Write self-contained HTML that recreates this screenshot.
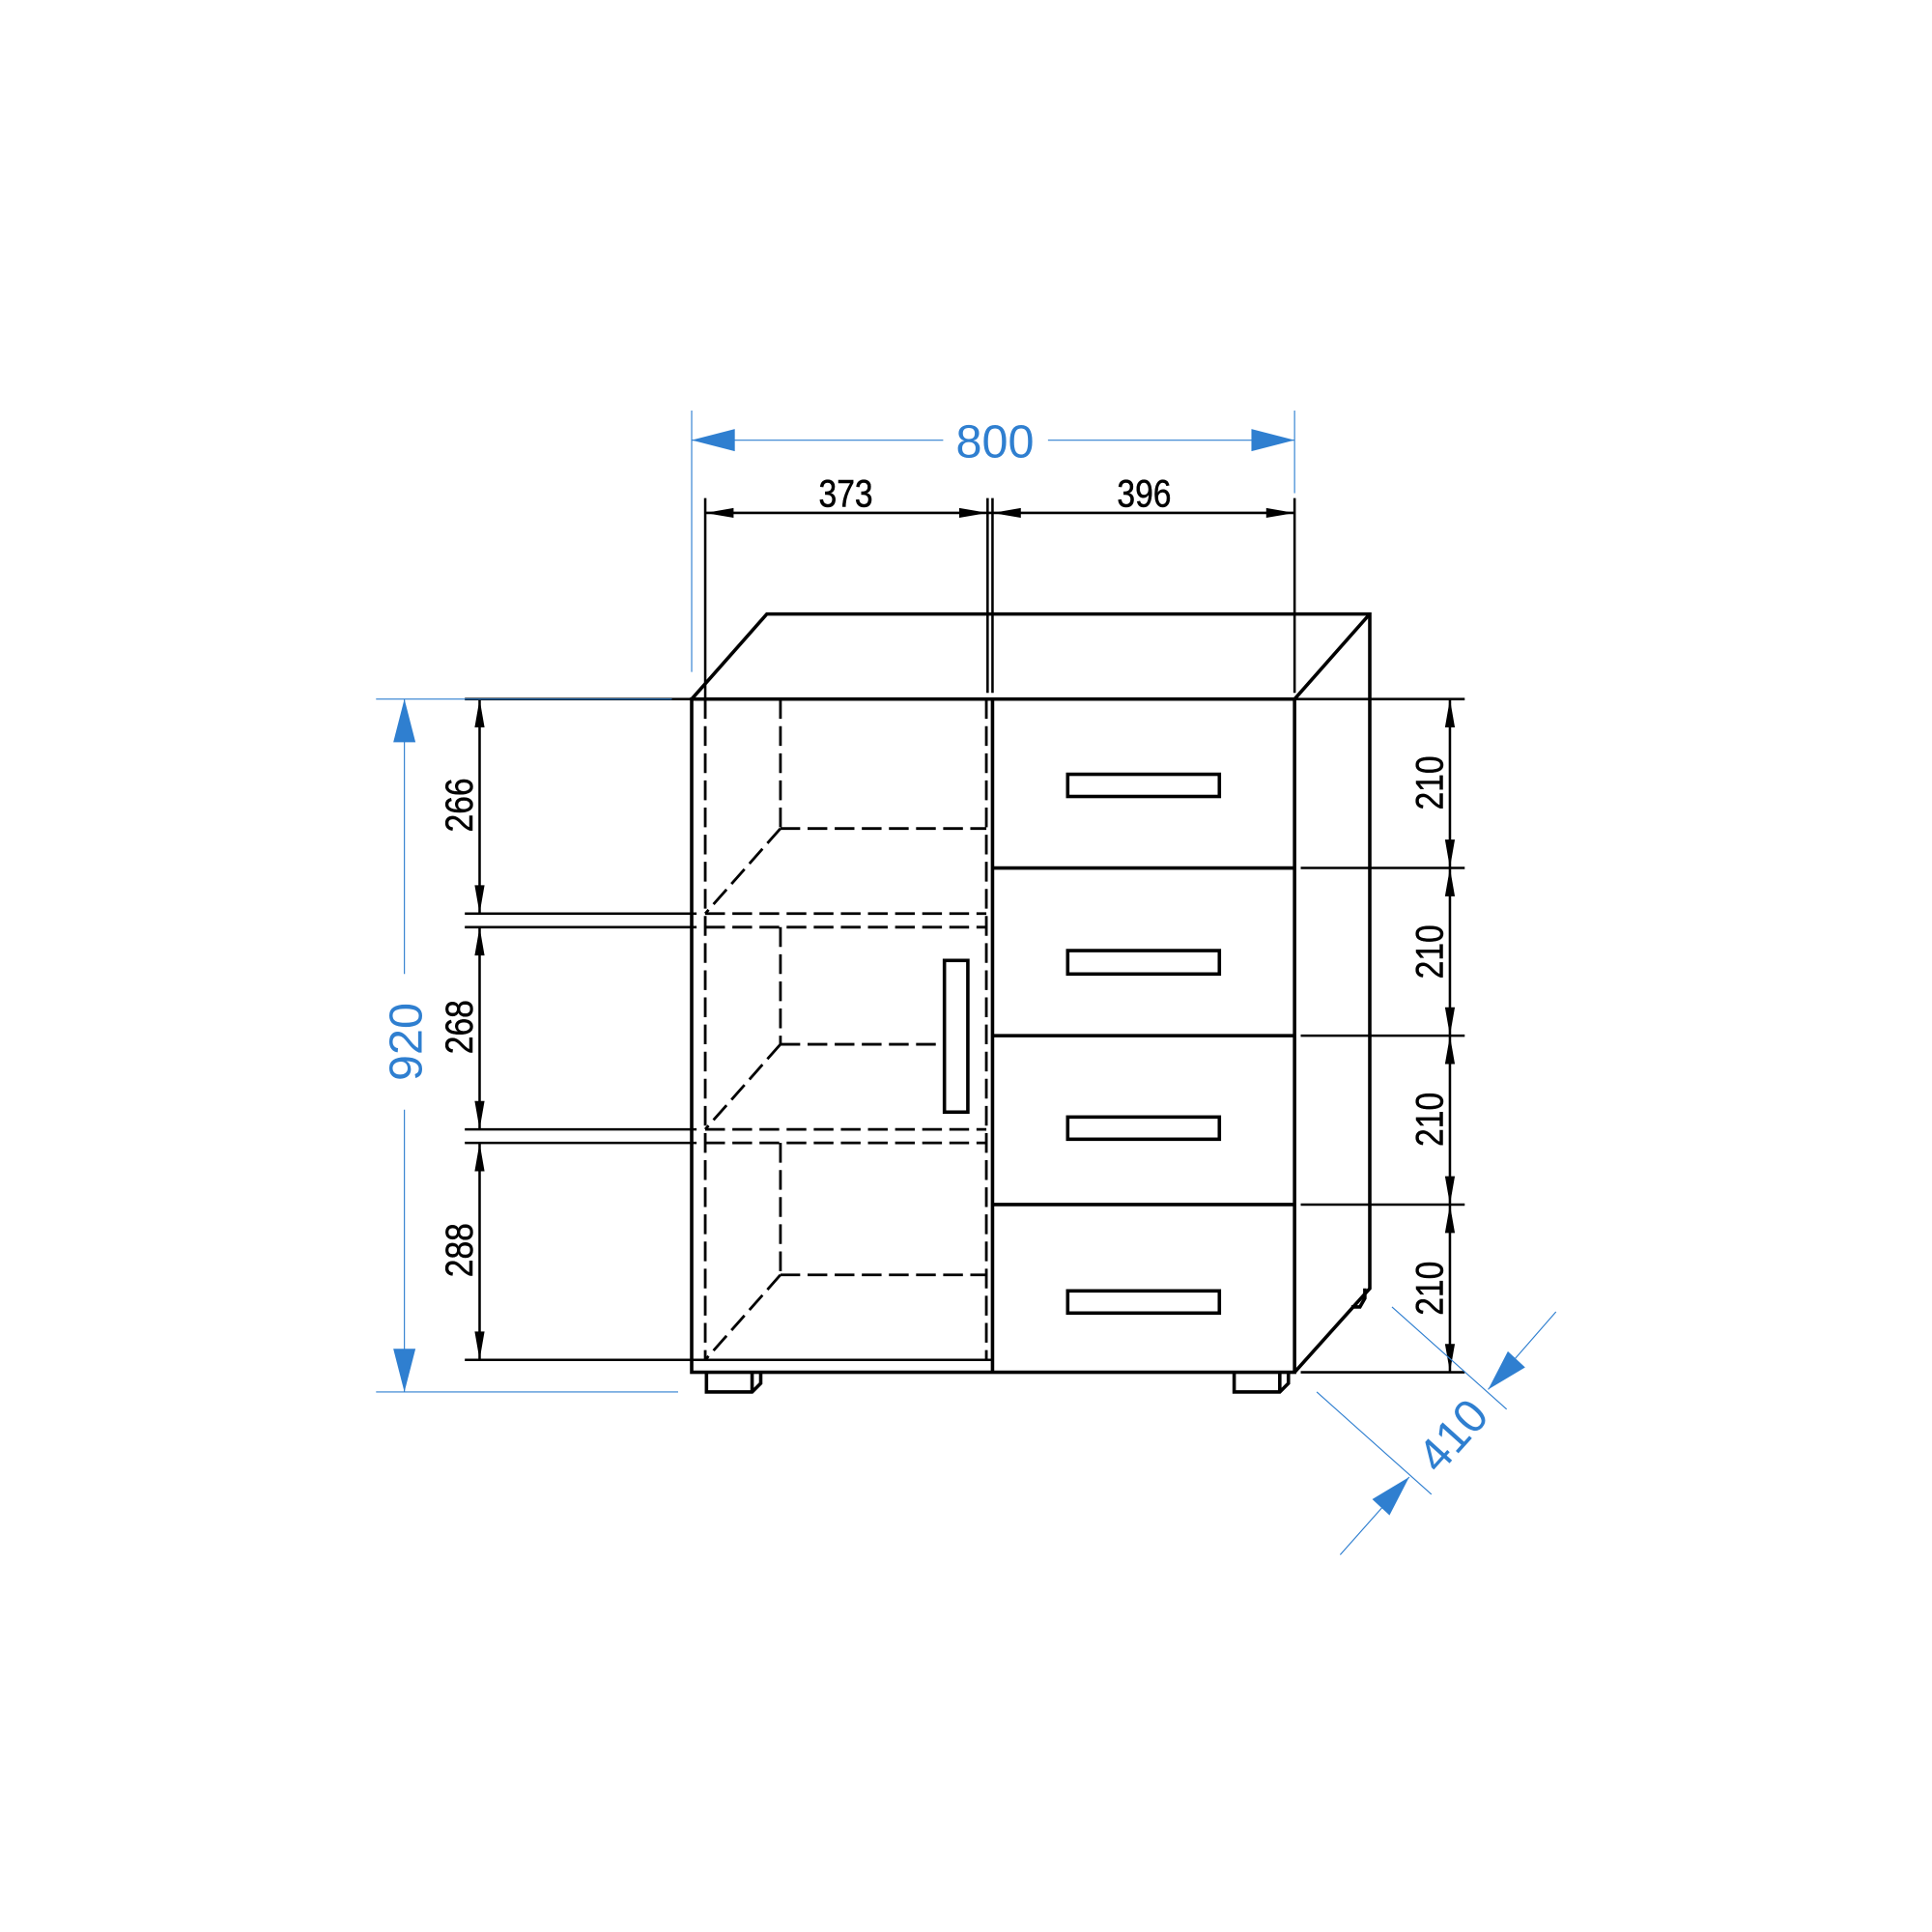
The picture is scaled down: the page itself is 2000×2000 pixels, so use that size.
<!DOCTYPE html>
<html><head><meta charset="utf-8"><style>html,body{margin:0;padding:0;background:#fff}svg{display:block}</style></head>
<body>
<svg width="2000" height="2000" viewBox="0 0 1567 1567" xmlns="http://www.w3.org/2000/svg">
<g fill="none" stroke="#000" stroke-width="2.8">
<path d="M561,567 L622,498 L1111,498 L1111,1045 L1050,1113"/>
<path d="M1050,567 L1111,498"/>
<rect x="561" y="567" width="489" height="546"/>
<line x1="561" y1="1103" x2="805" y2="1103" stroke-width="2"/>
<line x1="805" y1="567" x2="805" y2="1113"/>
<line x1="805" y1="704" x2="1050" y2="704"/>
<line x1="805" y1="840" x2="1050" y2="840"/>
<line x1="805" y1="977" x2="1050" y2="977"/>
<rect x="866" y="628" width="123" height="18"/>
<rect x="866" y="771" width="123" height="19"/>
<rect x="866" y="906" width="123" height="18"/>
<rect x="866" y="1047" width="123" height="18"/>
<rect x="766" y="779" width="19" height="123"/>
<path d="M573,1113 L573,1129 L610,1129 L617,1122 L617,1113 M610,1113 L610,1129"/>
<path d="M1001,1113 L1001,1129 L1038,1129 L1045,1122 L1045,1113 M1038,1113 L1038,1129"/>
<path d="M1096,1060 L1103,1060 L1107,1053 L1107,1045"/>
</g>
<g fill="none" stroke="#000" stroke-width="2.2" stroke-dasharray="16,6">
<line x1="572" y1="567" x2="572" y2="1103"/>
<line x1="800" y1="567" x2="800" y2="1103"/>
<line x1="633" y1="567" x2="633" y2="672"/>
<line x1="633" y1="752" x2="633" y2="847"/>
<line x1="633" y1="927" x2="633" y2="1034"/>
<line x1="633" y1="672" x2="800" y2="672"/>
<line x1="633" y1="847" x2="766" y2="847"/>
<line x1="633" y1="1034" x2="800" y2="1034"/>
<line x1="572" y1="741" x2="800" y2="741"/>
<line x1="572" y1="752" x2="800" y2="752"/>
<line x1="572" y1="916" x2="800" y2="916"/>
<line x1="572" y1="927" x2="800" y2="927"/>
<line x1="633" y1="672" x2="572" y2="741"/>
<line x1="633" y1="847" x2="572" y2="916"/>
<line x1="633" y1="1034" x2="572" y2="1103"/>
</g>
<g stroke="#000" stroke-width="2" fill="none">
<line x1="377" y1="567" x2="561" y2="567"/>
<line x1="377" y1="741" x2="565" y2="741"/>
<line x1="377" y1="752" x2="565" y2="752"/>
<line x1="377" y1="916" x2="565" y2="916"/>
<line x1="377" y1="927" x2="565" y2="927"/>
<line x1="377" y1="1103" x2="561" y2="1103"/>
<line x1="389" y1="567" x2="389" y2="741"/>
<line x1="389" y1="752" x2="389" y2="916"/>
<line x1="389" y1="927" x2="389" y2="1103"/>
<line x1="1050" y1="567" x2="1188" y2="567"/>
<line x1="1055" y1="704" x2="1188" y2="704"/>
<line x1="1055" y1="840" x2="1188" y2="840"/>
<line x1="1055" y1="977" x2="1188" y2="977"/>
<line x1="1055" y1="1113" x2="1188" y2="1113"/>
<line x1="1176" y1="567" x2="1176" y2="1113"/>
<line x1="572" y1="404" x2="572" y2="567"/>
<line x1="801" y1="404" x2="801" y2="562"/>
<line x1="805" y1="404" x2="805" y2="562"/>
<line x1="1050" y1="404" x2="1050" y2="562"/>
<line x1="572" y1="416" x2="1050" y2="416"/>
</g>
<g fill="#000">
<path d="M389,567 L385,590 L393,590 z"/><path d="M389,741 L385,718 L393,718 z"/>
<path d="M389,752 L385,775 L393,775 z"/><path d="M389,916 L385,893 L393,893 z"/>
<path d="M389,927 L385,950 L393,950 z"/><path d="M389,1103 L385,1080 L393,1080 z"/>
<path d="M1176,567 L1172,590 L1180,590 z"/><path d="M1176,704 L1172,681 L1180,681 z"/>
<path d="M1176,704 L1172,727 L1180,727 z"/><path d="M1176,840 L1172,817 L1180,817 z"/>
<path d="M1176,840 L1172,863 L1180,863 z"/><path d="M1176,977 L1172,954 L1180,954 z"/>
<path d="M1176,977 L1172,1000 L1180,1000 z"/><path d="M1176,1113 L1172,1090 L1180,1090 z"/>
<path d="M572,416 L595,412 L595,420 z"/><path d="M801,416 L778,412 L778,420 z"/>
<path d="M805,416 L828,412 L828,420 z"/><path d="M1050,416 L1027,412 L1027,420 z"/>
</g>
<g font-family="Liberation Sans, sans-serif" font-size="31" fill="#000" text-anchor="middle" stroke="#000" stroke-width="0.4">
<text x="686" y="411" transform="translate(686 0) scale(0.85 1) translate(-686 0)">373</text>
<text x="928" y="411" transform="translate(928 0) scale(0.85 1) translate(-928 0)">396</text>
<text transform="translate(383 653) rotate(-90) scale(0.85 1)">266</text>
<text transform="translate(383 833) rotate(-90) scale(0.85 1)">268</text>
<text transform="translate(383 1014) rotate(-90) scale(0.85 1)">288</text>
<text transform="translate(1170 635) rotate(-90) scale(0.85 1)">210</text>
<text transform="translate(1170 772) rotate(-90) scale(0.85 1)">210</text>
<text transform="translate(1170 908) rotate(-90) scale(0.85 1)">210</text>
<text transform="translate(1170 1045) rotate(-90) scale(0.85 1)">210</text>
</g>
<g stroke="#2f7fd0" stroke-width="0.9" fill="none">
<line x1="561" y1="333" x2="561" y2="545"/>
<line x1="1050" y1="333" x2="1050" y2="400"/>
<line x1="561" y1="357" x2="765" y2="357"/>
<line x1="850" y1="357" x2="1050" y2="357"/>
<line x1="305" y1="567" x2="545" y2="567"/>
<line x1="305" y1="1129" x2="550" y2="1129"/>
<line x1="328" y1="567" x2="328" y2="790"/>
<line x1="328" y1="900" x2="328" y2="1129"/>
<line x1="1068" y1="1129" x2="1161" y2="1212"/>
<line x1="1129" y1="1060" x2="1222" y2="1143"/>
<line x1="1087" y1="1261" x2="1143" y2="1198"/>
<line x1="1207" y1="1127" x2="1262" y2="1064"/>
</g>
<g fill="#2f7fd0">
<path d="M561,357 L596,348 L596,366 z"/>
<path d="M1050,357 L1015,348 L1015,366 z"/>
<path d="M328,567 L319,602 L337,602 z"/>
<path d="M328,1129 L319,1094 L337,1094 z"/>
<path d="M1143,1198 L1113,1216 L1127,1229 z"/>
<path d="M1207,1127 L1237,1109 L1223,1096 z"/>
</g>
<g font-family="Liberation Sans, sans-serif" font-size="38" fill="#2f7fd0" text-anchor="middle">
<text x="807" y="371">800</text>
<text transform="translate(342 845) rotate(-90)">920</text>
<text transform="translate(1188 1173) rotate(-48)">410</text>
</g>
</svg>
</body></html>
